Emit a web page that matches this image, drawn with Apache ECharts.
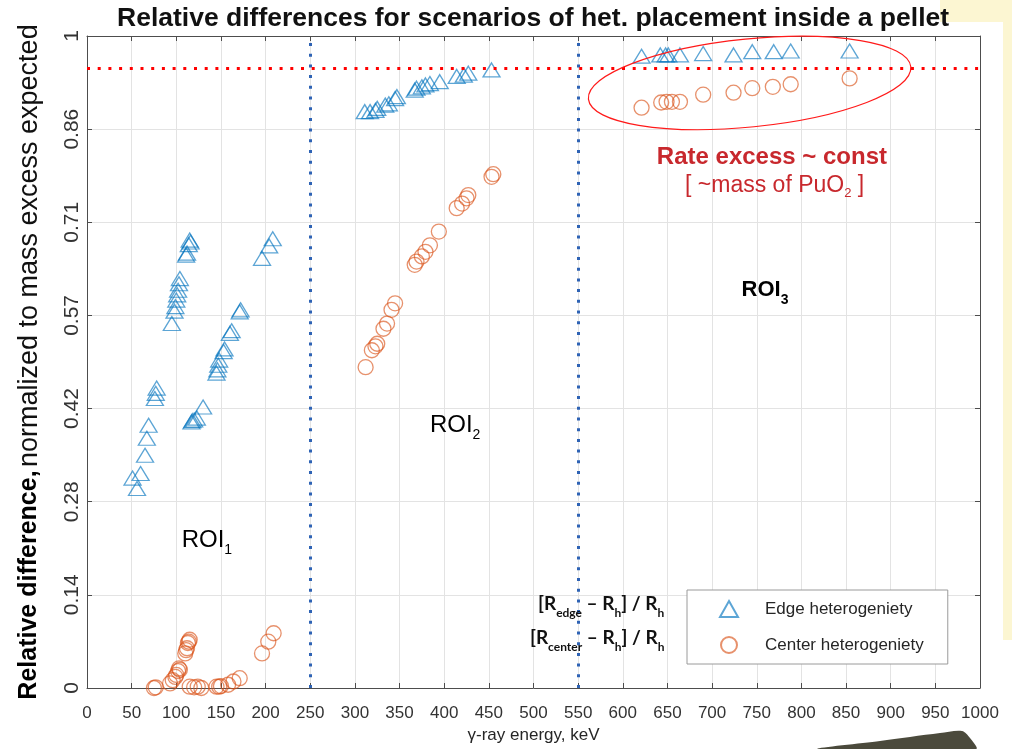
<!DOCTYPE html>
<html>
<head>
<meta charset="utf-8">
<script src="https://cdn.jsdelivr.net/npm/echarts@6/dist/echarts.min.js"></script>
<style>
html,body{margin:0;padding:0;background:#fff;}
#c{width:1012px;height:749px;}
</style>
</head>
<body>
<div id="c"></div>
<script>
// ---- data (energy keV, relative difference) ----
const edgeROI1 = [[51,0.322],[56,0.306],[60,0.329],[65,0.357],[67,0.383],[69,0.403],[76,0.444],[77,0.452],[78,0.46],
  [95,0.559],[98,0.578],[99,0.585],[100,0.595],[101,0.603],[102,0.61],[103,0.62],[104,0.628],
  [111,0.664],[112,0.667],[114,0.68],[115,0.687],[116,0.684],
  [117,0.408],[118,0.41],[120,0.411],[123,0.414],[130,0.431],
  [145,0.483],[146,0.488],[147,0.495],[148,0.503],[153,0.516],[154,0.52],[160,0.544],[162,0.548],[171,0.577],[172,0.58],
  [196,0.659],[204,0.678],[208,0.689]];
const edgeROI2 = [[311,0.884],[317,0.884],[323,0.886],[325,0.889],[334,0.894],[338,0.896],[345,0.904],[347,0.907],
  [367,0.917],[369,0.92],[375,0.922],[379,0.925],[384,0.927],[395,0.93],[414,0.938],[422,0.94],[427,0.943],[453,0.948]];
const edgeROI3 = [[621,0.969],[642,0.971],[648,0.971],[651,0.971],[664,0.971],[690,0.973],[724,0.971],[745,0.976],[769,0.976],[788,0.977],[854,0.977]];

const centerROI1 = [[75,0.0],[77,0.001],[93,0.007],[96,0.012],[99,0.017],[100,0.02],[102,0.026],[103,0.03],[104,0.028],
  [110,0.053],[111,0.058],[112,0.061],[113,0.069],[114,0.071],[115,0.074],
  [115,0.002],[120,0.001],[124,0.002],[128,0.0],[145,0.002],[148,0.002],[150,0.003],[158,0.005],[164,0.01],[171,0.015],
  [196,0.053],[203,0.071],[209,0.084]];
const centerROI2 = [[312,0.492],[319,0.518],[323,0.524],[325,0.528],[332,0.551],[336,0.559],[341,0.58],[345,0.59],
  [367,0.649],[369,0.654],[375,0.662],[379,0.669],[384,0.679],[394,0.7],[414,0.736],[420,0.743],[425,0.751],[427,0.756],[453,0.784],[455,0.788]];
const centerROI3 = [[621,0.89],[643,0.898],[649,0.899],[655,0.899],[664,0.899],[690,0.91],[724,0.913],[745,0.92],[768,0.922],[788,0.926],[854,0.935]];

const yTickLabels = ['0','0.14','0.28','0.42','0.57','0.71','0.86','1'];
const roiBoundaries = [250, 550];
const expectedLevel = 0.95;
const seriesNames = ['Edge heterogeniety', 'Center heterogeniety'];

const FONT = '"Liberation Sans", Arial, sans-serif';
const chart = echarts.init(document.getElementById('c'), null, {renderer:'canvas', width:1012, height:749});

const axisLineStyle = {color:'#4d4d4d', width:1};
const gridLine = {show:true, lineStyle:{color:'#e3e3e3', width:1}};

chart.setOption({
  animation:false,
  backgroundColor:'#ffffff',
  title:{
    text:'Relative differences for scenarios of het. placement inside a pellet',
    left:117, top:0, padding:[5,0,5,0],
    textStyle:{fontFamily:FONT, fontWeight:'bold', fontSize:26.5, color:'#111'}
  },
  grid:{left:87, right:32, top:36, bottom:61, containLabel:false},
  legend:{
    orient:'vertical', left:687, top:590,
    itemWidth:18, itemHeight:16, itemGap:18,
    padding:[10,24,10,32],
    borderColor:'#9a9a9a', borderWidth:1, backgroundColor:'#fff',
    textStyle:{fontFamily:FONT, fontSize:17, color:'#262626', padding:[0,0,0,22]},
    data:seriesNames
  },
  xAxis:[{
    type:'value', min:0, max:1000, interval:50, position:'bottom',
    name:'γ-ray energy, keV', nameLocation:'middle', nameGap:37,
    nameTextStyle:{fontFamily:FONT, fontSize:17, color:'#262626'},
    axisLine:{show:true, onZero:false, lineStyle:axisLineStyle},
    axisTick:{show:true, inside:true, length:5, lineStyle:axisLineStyle},
    axisLabel:{fontFamily:FONT, fontSize:17, color:'#333', margin:17, interval:0, hideOverlap:false,
      formatter:function(v){ return String(v); }},
    splitLine:gridLine
  },{
    type:'value', min:0, max:1000, interval:50, position:'top',
    axisLine:{show:true, onZero:false, lineStyle:axisLineStyle},
    axisTick:{show:true, inside:true, length:5, lineStyle:axisLineStyle},
    axisLabel:{show:false}, splitLine:{show:false}
  }],
  yAxis:[{
    type:'value', min:0, max:1, interval:1/7, position:'left',
    name:'{b|Relative difference,} {n|normalized to mass excess expected}',
    nameLocation:'middle', nameGap:44, nameRotate:90,
    nameTextStyle:{rich:{
      b:{fontFamily:FONT, fontWeight:'bold', fontSize:25, color:'#000'},
      n:{fontFamily:FONT, fontSize:27, color:'#111'}
    }},
    axisLine:{show:true, onZero:false, lineStyle:axisLineStyle},
    axisTick:{show:true, inside:true, length:5, lineStyle:axisLineStyle},
    axisLabel:{fontFamily:FONT, fontSize:21, color:'#333', rotate:90, margin:4,
      formatter:function(v){ return yTickLabels[Math.round(v*7)]; }},
    splitLine:gridLine
  },{
    type:'value', min:0, max:1, interval:1/7, position:'right',
    axisLine:{show:true, onZero:false, lineStyle:axisLineStyle},
    axisTick:{show:true, inside:true, length:5, lineStyle:axisLineStyle},
    axisLabel:{show:false}, splitLine:{show:false}
  }],
  series:[{
    name:seriesNames[0], type:'scatter', xAxisIndex:0, yAxisIndex:0,
    symbol:'triangle', symbolSize:[17,14],
    itemStyle:{color:'rgba(0,0,0,0)', borderColor:'rgba(0,114,189,0.8)', borderWidth:1.3},
    data:edgeROI1.concat(edgeROI2, edgeROI3),
    z:4,
    markLine:{
      silent:true, symbol:'none', label:{show:false}, animation:false,
      data:[
        {xAxis:roiBoundaries[0], lineStyle:{color:'#2e63b5', width:3, type:[3,7.7]}},
        {xAxis:roiBoundaries[1], lineStyle:{color:'#2e63b5', width:3, type:[3,7.7]}},
        {yAxis:expectedLevel, lineStyle:{color:'#ff0000', width:3, type:[3,7.7]}}
      ]
    }
  },{
    name:seriesNames[1], type:'scatter', xAxisIndex:0, yAxisIndex:0,
    symbol:'circle', symbolSize:15,
    itemStyle:{color:'rgba(0,0,0,0)', borderColor:'rgba(217,83,25,0.8)', borderWidth:1.3},
    data:centerROI1.concat(centerROI2, centerROI3),
    z:4
  }]
});

// ---- annotations anchored in data coordinates ----
function px(x, y){ return chart.convertToPixel({xAxisIndex:0, yAxisIndex:0}, [x, y]); }
const roiLabel = (name, sub, bold, size) => ({
  text:'{m|' + name + '}{s|' + sub + '}',
  rich:{
    m:{fontFamily:FONT, fontSize:size, lineHeight:34, fontWeight:bold?'bold':'normal', fill:'#000'},
    s:{fontFamily:FONT, fontSize:14, lineHeight:16, verticalAlign:'bottom', fontWeight:bold?'bold':'normal', fill:'#000'}
  }
});
const FORM = 'Lato, "Open Sans", sans-serif';
const formula = (sub) => ({
  text:'{m|[R}{s|' + sub + '}{m| – R}{s|h}{m|] / R}{s|h}',
  rich:{
    m:{fontFamily:FORM, fontSize:19, fontWeight:'bold', lineHeight:30, fill:'#111'},
    s:{fontFamily:FORM, fontSize:12, fontWeight:'bold', lineHeight:8, verticalAlign:'bottom', fill:'#111'}
  }
});

const p1 = px(106, 0.227), p2 = px(384, 0.403), p3 = px(733, 0.61);
const pr = px(767, 0.814), pm = px(770, 0.771);
const pf1 = px(505, 0.129), pf2 = px(496, 0.077);
const pe = px(742, 0.928);

chart.setOption({
  graphic:[
    // slide background remnants
    {type:'rect', z:-10, shape:{x:940, y:0, width:72, height:22}, style:{fill:'#fcf6d2'}, silent:true},
    {type:'rect', z:-10, shape:{x:1003, y:0, width:9, height:640}, style:{fill:'#fcf6d2'}, silent:true},
    {type:'polygon', z:-10, shape:{points:[[818,749],[880,741],[940,733],[962,731],[970,738],[976,749]], smooth:0.3}, style:{fill:'#4b4a3c'}, silent:true},
    // ellipse highlighting ROI3
    {type:'ellipse', z:100, x:pe[0], y:pe[1], rotation:0.1, shape:{cx:0, cy:0, rx:162, ry:44},
      style:{fill:'none', stroke:'#ff1a1a', lineWidth:1.2}, silent:true},
    {type:'text', z:100, x:p1[0], y:p1[1], style:Object.assign({align:'left', verticalAlign:'middle'}, roiLabel('ROI','1',false,24))},
    {type:'text', z:100, x:p2[0], y:p2[1], style:Object.assign({align:'left', verticalAlign:'middle'}, roiLabel('ROI','2',false,24))},
    {type:'text', z:100, x:p3[0], y:p3[1], style:Object.assign({align:'left', verticalAlign:'middle'}, roiLabel('ROI','3',true,22))},
    {type:'text', z:100, x:pr[0], y:pr[1], style:{text:'Rate excess ~ const', align:'center', verticalAlign:'middle',
      fontFamily:FONT, fontSize:24, fontWeight:'bold', fill:'#c8282d'}},
    {type:'text', z:100, x:pm[0], y:pm[1], style:{text:'{m|[ ~mass of PuO}{s|2}{m| ]}', align:'center', verticalAlign:'middle',
      rich:{m:{fontFamily:FONT, fontSize:23, lineHeight:30, fill:'#c8282d'},
            s:{fontFamily:FONT, fontSize:13, lineHeight:12, verticalAlign:'bottom', fill:'#c8282d'}}}},
    {type:'text', z:100, x:pf1[0], y:pf1[1], style:Object.assign({align:'left', verticalAlign:'middle'}, formula('edge'))},
    {type:'text', z:100, x:pf2[0], y:pf2[1], style:Object.assign({align:'left', verticalAlign:'middle'}, formula('center'))}
  ]
});
</script>
</body>
</html>
